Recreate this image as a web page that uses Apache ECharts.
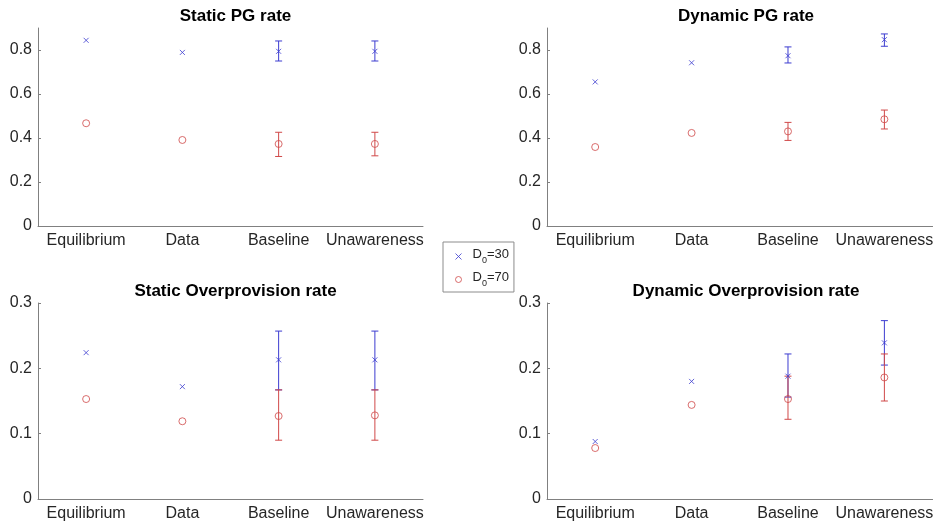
<!DOCTYPE html>
<html>
<head>
<meta charset="utf-8">
<script src="https://cdn.jsdelivr.net/npm/echarts@6/dist/echarts.min.js"></script>
<style>
  html, body { margin: 0; padding: 0; background: #fff; }
  #main { width: 936px; height: 527px; }
</style>
</head>
<body>
<div id="main"></div>
<script>
const categories = ["Equilibrium", "Data", "Baseline", "Unawareness"];
const titles = ["Static PG rate", "Dynamic PG rate", "Static Overprovision rate", "Dynamic Overprovision rate"];

// D0=30 (blue) and D0=70 (red) means, plus error bar ends (null = no bar)
const staticPG30 = [0.844, 0.789, 0.794, 0.794];
const staticPG30Lo = [null, null, 0.750, 0.750];
const staticPG30Hi = [null, null, 0.841, 0.841];
const staticPG70 = [0.467, 0.391, 0.373, 0.373];
const staticPG70Lo = [null, null, 0.316, 0.319];
const staticPG70Hi = [null, null, 0.426, 0.426];

const dynamicPG30 = [0.655, 0.742, 0.774, 0.847];
const dynamicPG30Lo = [null, null, 0.741, 0.817];
const dynamicPG30Hi = [null, null, 0.814, 0.873];
const dynamicPG70 = [0.359, 0.423, 0.430, 0.485];
const dynamicPG70Lo = [null, null, 0.389, 0.441];
const dynamicPG70Hi = [null, null, 0.471, 0.527];

const staticOP30 = [0.224, 0.172, 0.213, 0.213];
const staticOP30Lo = [null, null, 0.167, 0.167];
const staticOP30Hi = [null, null, 0.257, 0.257];
const staticOP70 = [0.153, 0.119, 0.127, 0.128];
const staticOP70Lo = [null, null, 0.090, 0.090];
const staticOP70Hi = [null, null, 0.167, 0.167];

const dynamicOP30 = [0.088, 0.180, 0.188, 0.239];
const dynamicOP30Lo = [null, null, 0.156, 0.205];
const dynamicOP30Hi = [null, null, 0.222, 0.273];
const dynamicOP70 = [0.078, 0.144, 0.153, 0.186];
const dynamicOP70Lo = [null, null, 0.122, 0.150];
const dynamicOP70Hi = [null, null, 0.188, 0.222];

const yMax = [0.9, 0.9, 0.3, 0.3];
const yStep = [0.2, 0.2, 0.1, 0.1];

const panels = [
  [staticPG30, staticPG30Lo, staticPG30Hi, staticPG70, staticPG70Lo, staticPG70Hi],
  [dynamicPG30, dynamicPG30Lo, dynamicPG30Hi, dynamicPG70, dynamicPG70Lo, dynamicPG70Hi],
  [staticOP30, staticOP30Lo, staticOP30Hi, staticOP70, staticOP70Lo, staticOP70Hi],
  [dynamicOP30, dynamicOP30Lo, dynamicOP30Hi, dynamicOP70, dynamicOP70Lo, dynamicOP70Hi],
];

const blue = "#3c3cd0";
const red = "#d04848";
const axisColor = "#808080";
const textColor = "#262626";
const crossPath = "path://M0,0L10,10M10,0L0,10";

const grids = [
  { left: 38, top: 28, width: 385, height: 198 },
  { left: 547, top: 28, width: 388, height: 198 },
  { left: 38, top: 303, width: 385, height: 196 },
  { left: 547, top: 303, width: 388, height: 196 },
];

const errorBars = (color) => (params, api) => {
  const lo = api.value(1);
  const hi = api.value(2);
  if (lo == null || isNaN(lo)) return null;
  const p1 = api.coord([api.value(0), lo]);
  const p2 = api.coord([api.value(0), hi]);
  const w = 3.5;
  const style = { stroke: color, lineWidth: 1 };
  return {
    type: "group",
    children: [
      { type: "line", shape: { x1: p1[0], y1: p1[1], x2: p2[0], y2: p2[1] }, style },
      { type: "line", shape: { x1: p1[0] - w, y1: p1[1], x2: p1[0] + w, y2: p1[1] }, style },
      { type: "line", shape: { x1: p2[0] - w, y1: p2[1], x2: p2[0] + w, y2: p2[1] }, style },
    ],
  };
};

const xAxes = grids.map((g, i) => ({
  type: "category",
  gridIndex: i,
  data: categories,
  boundaryGap: true,
  axisLine: { lineStyle: { color: axisColor } },
  axisTick: { inside: true, alignWithLabel: true, length: 4, lineStyle: { color: axisColor } },
  axisLabel: { color: textColor, fontSize: 16, fontFamily: "Liberation Sans", margin: 7, interval: 0 },
}));

const yAxes = grids.map((g, i) => ({
  type: "value",
  gridIndex: i,
  min: 0,
  max: yMax[i],
  interval: yStep[i],
  splitLine: { show: false },
  axisLine: { show: true, lineStyle: { color: axisColor } },
  axisTick: { show: true, inside: true, length: 3, lineStyle: { color: axisColor } },
  axisLabel: { color: textColor, fontSize: 16, fontFamily: "Liberation Sans", margin: 6, showMaxLabel: i >= 2 },
}));

const series = [];
panels.forEach((p, i) => {
  const [m30, lo30, hi30, m70, lo70, hi70] = p;
  series.push({
    type: "custom", name: "err30_" + i, xAxisIndex: i, yAxisIndex: i,
    renderItem: errorBars(blue),
    data: categories.map((c, k) => [k, lo30[k], hi30[k]]),
    z: 2,
  });
  series.push({
    type: "custom", name: "err70_" + i, xAxisIndex: i, yAxisIndex: i,
    renderItem: errorBars(red),
    data: categories.map((c, k) => [k, lo70[k], hi70[k]]),
    z: 2,
  });
  series.push({
    type: "scatter", name: "D0=30", xAxisIndex: i, yAxisIndex: i,
    symbol: crossPath, symbolSize: 5,
    itemStyle: { color: blue, borderColor: blue, borderWidth: 1 },
    data: m30, z: 3,
  });
  series.push({
    type: "scatter", name: "D0=70", xAxisIndex: i, yAxisIndex: i,
    symbol: "circle", symbolSize: 7,
    itemStyle: { color: "rgba(255,255,255,0)", borderColor: red, borderWidth: 1 },
    data: m70, z: 3,
  });
});

const chart = echarts.init(document.getElementById("main"));
chart.setOption({
  backgroundColor: "#fff",
  animation: false,
  title: titles.map((t, i) => ({
    text: t,
    left: grids[i].left + grids[i].width / 2,
    textAlign: "center",
    top: i < 2 ? 3 : 278,
    textStyle: { fontSize: 17, fontWeight: "bold", color: "#000", fontFamily: "Liberation Sans" },
  })),
  legend: {
    data: [
      { name: "D0=30", icon: crossPath, itemStyle: { color: blue, borderColor: blue, borderWidth: 1 } },
      { name: "D0=70", icon: "circle", itemStyle: { color: "#fff", borderColor: red, borderWidth: 1 } },
    ],
    orient: "vertical",
    left: 443,
    top: 242,
    padding: [6, 5, 4, 12],
    itemGap: 6,
    itemWidth: 6,
    itemHeight: 6,
    borderColor: "#8c8c8c",
    borderWidth: 1,
    formatter: (name) => "{a|D}{s|0}{a|" + name.slice(2) + "}",
    textStyle: {
      color: textColor,
      padding: [0, 0, 0, 6],
      rich: {
        a: { fontSize: 13, fontFamily: "Liberation Sans", color: textColor, lineHeight: 17, verticalAlign: "top" },
        s: { fontSize: 9, fontFamily: "Liberation Sans", color: textColor, lineHeight: 17, verticalAlign: "bottom" },
      },
    },
  },
  grid: grids,
  xAxis: xAxes,
  yAxis: yAxes,
  series: series,
});
</script>
</body>
</html>
